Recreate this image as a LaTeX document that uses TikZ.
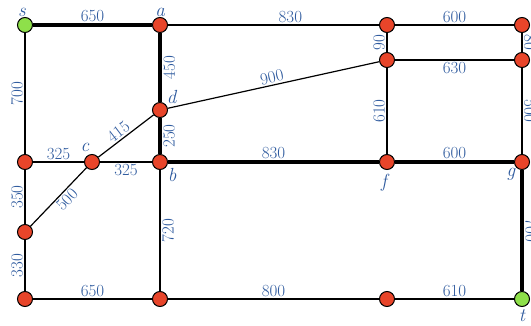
\documentclass[tikz,border=0pt]{standalone}
\usepackage{tikz}
\usetikzlibrary{positioning}
\definecolor{VertRed}{HTML}{E8452A}
\definecolor{VertGreen}{HTML}{8EE04A}
\definecolor{WeightBlue}{HTML}{2E5A9E}
\tikzset{
  vert/.style={circle, draw=black, line width=1pt, fill=VertRed, minimum size=15pt, inner sep=0pt},
  term/.style={vert, fill=VertGreen},
  edge/.style={line width=1.2pt},
  route/.style={line width=3.8pt},
  wt/.style={font=\fontsize{17}{19}\selectfont, text=WeightBlue, inner sep=1.5pt},
  wtleft/.style={wt, rotate=90, anchor=south},
  wtright/.style={wt, rotate=90, anchor=north},
  wtdown/.style={wt, rotate=-90, anchor=south},
  nm/.style={font=\fontsize{19}{21}\selectfont\itshape, text=WeightBlue, inner sep=1pt},
}

\begin{document}
\begin{tikzpicture}[x=1pt, y=-1pt]
  \clip (0,0) rectangle (531,326);
  \useasboundingbox (0,0) rectangle (531,326);
  % vertices
  \node[term] (s) at (25,25) {};
  \node[vert] (a) at (160,25) {};
  \node[vert] (u1) at (387,25) {};
  \node[vert] (u2) at (522,25) {};
  \node[vert] (v1) at (387,60) {};
  \node[vert] (v2) at (522,60) {};
  \node[vert] (d) at (160,110) {};
  \node[vert] (w) at (25,162) {};
  \node[vert] (c) at (92,162) {};
  \node[vert] (b) at (160,162) {};
  \node[vert] (f) at (387,162) {};
  \node[vert] (g) at (522,162) {};
  \node[vert] (m) at (25,232) {};
  \node[vert] (z1) at (25,299) {};
  \node[vert] (z2) at (160,299) {};
  \node[vert] (z3) at (387,299) {};
  \node[term] (t) at (522,299) {};
  % vertex names
  \node[nm, above=-0.5pt of s, xshift=-3pt] (s-name) {s};
  \node[nm, above=-0.5pt of a] (a-name) {a};
  \node[nm, above right=-1pt and 0pt of d] (d-name) {d};
  \node[nm, above=1pt of c, xshift=-7pt] (c-name) {c};
  \node[nm, below right=-1pt and 1pt of b] (b-name) {b};
  \node[nm, below=3pt of f, xshift=-3pt] (f-name) {f};
  \node[nm, below left=-1pt and 0pt of g] (g-name) {g};
  \node[nm, below=1pt of t] (t-name) {t};
  % edges
  \draw[route] (s) -- node[wt, above] {650} (a);
  \draw[edge] (a) -- node[wt, above, pos=0.58] {830} (u1);
  \draw[edge] (u1) -- node[wt, above] {600} (u2);
  \draw[route] (a) -- node[wtright] {450} (d);
  \draw[edge] (u1) -- node[wtleft] {90} (v1);
  \draw[edge] (u2) -- node[wtdown] {80} (v2);
  \draw[edge] (v1) -- node[wt, below] {630} (v2);
  \draw[edge] (d) -- node[wt, above, sloped] {900} (v1);
  \draw[edge] (v1) -- node[wtleft] {610} (f);
  \draw[edge] (v2) -- node[wtdown] {500} (g);
  \draw[edge] (s) -- node[wtleft] {700} (w);
  \draw[edge] (w) -- node[wt, above] {325} (c);
  \draw[edge] (c) -- node[wt, above, sloped, pos=0.45] {415} (d);
  \draw[edge] (c) -- node[wt, below] {325} (b);
  \draw[route] (d) -- node[wtright] {250} (b);
  \draw[route] (b) -- node[wt, above] {830} (f);
  \draw[route] (f) -- node[wt, above] {600} (g);
  \draw[edge] (w) -- node[wtleft] {350} (m);
  \draw[edge] (m) -- node[wt, below, sloped, pos=0.55] {500} (c);
  \draw[edge] (m) -- node[wtleft] {330} (z1);
  \draw[edge] (b) -- node[wtright] {720} (z2);
  \draw[route] (g) -- node[wtdown] {700} (t);
  \draw[edge] (z1) -- node[wt, above] {650} (z2);
  \draw[edge] (z2) -- node[wt, above] {800} (z3);
  \draw[edge] (z3) -- node[wt, above] {610} (t);
\end{tikzpicture}
\end{document}
